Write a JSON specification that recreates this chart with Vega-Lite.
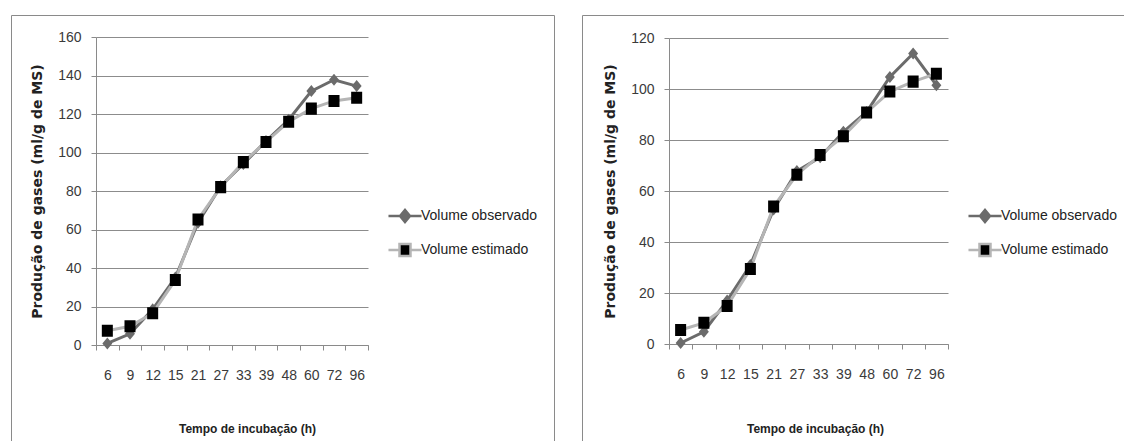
{
  "$schema": "https://vega.github.io/schema/vega-lite/v6.json",
  "padding": {"left": 10, "top": 14, "right": 0, "bottom": 0},
  "background": "white",
  "spacing": 26,
  "resolve": {
    "scale": {"stroke": "independent", "fill": "independent", "shape": "independent"},
    "legend": {"stroke": "independent", "fill": "independent", "shape": "independent"}
  },
  "datasets": {
    "a": [
      {"t": 6, "s": "Volume observado", "v": 0.8}, {"t": 6, "s": "Volume estimado", "v": 7.4},
      {"t": 9, "s": "Volume observado", "v": 5.8}, {"t": 9, "s": "Volume estimado", "v": 9.7},
      {"t": 12, "s": "Volume observado", "v": 18.5}, {"t": 12, "s": "Volume estimado", "v": 16.5},
      {"t": 15, "s": "Volume observado", "v": 35}, {"t": 15, "s": "Volume estimado", "v": 33.8},
      {"t": 21, "s": "Volume observado", "v": 63.5}, {"t": 21, "s": "Volume estimado", "v": 65.2},
      {"t": 27, "s": "Volume observado", "v": 82.5}, {"t": 27, "s": "Volume estimado", "v": 82},
      {"t": 33, "s": "Volume observado", "v": 94}, {"t": 33, "s": "Volume estimado", "v": 95},
      {"t": 39, "s": "Volume observado", "v": 106}, {"t": 39, "s": "Volume estimado", "v": 105.5},
      {"t": 48, "s": "Volume observado", "v": 117}, {"t": 48, "s": "Volume estimado", "v": 116},
      {"t": 60, "s": "Volume observado", "v": 131.9}, {"t": 60, "s": "Volume estimado", "v": 122.8},
      {"t": 72, "s": "Volume observado", "v": 137.8}, {"t": 72, "s": "Volume estimado", "v": 126.8},
      {"t": 96, "s": "Volume observado", "v": 134.5}, {"t": 96, "s": "Volume estimado", "v": 128.4}
    ],
    "b": [
      {"t": 6, "s": "Volume observado", "v": 0.4}, {"t": 6, "s": "Volume estimado", "v": 5.5},
      {"t": 9, "s": "Volume observado", "v": 4.8}, {"t": 9, "s": "Volume estimado", "v": 8.3},
      {"t": 12, "s": "Volume observado", "v": 17}, {"t": 12, "s": "Volume estimado", "v": 14.9},
      {"t": 15, "s": "Volume observado", "v": 31}, {"t": 15, "s": "Volume estimado", "v": 29.4},
      {"t": 21, "s": "Volume observado", "v": 52.8}, {"t": 21, "s": "Volume estimado", "v": 53.9},
      {"t": 27, "s": "Volume observado", "v": 67.8}, {"t": 27, "s": "Volume estimado", "v": 66.4},
      {"t": 33, "s": "Volume observado", "v": 73.2}, {"t": 33, "s": "Volume estimado", "v": 74.1},
      {"t": 39, "s": "Volume observado", "v": 83.2}, {"t": 39, "s": "Volume estimado", "v": 81.5},
      {"t": 48, "s": "Volume observado", "v": 91}, {"t": 48, "s": "Volume estimado", "v": 90.8},
      {"t": 60, "s": "Volume observado", "v": 104.7}, {"t": 60, "s": "Volume estimado", "v": 99},
      {"t": 72, "s": "Volume observado", "v": 113.9}, {"t": 72, "s": "Volume estimado", "v": 102.9},
      {"t": 96, "s": "Volume observado", "v": 101.5}, {"t": 96, "s": "Volume estimado", "v": 106}
    ]
  },
  "hconcat": [
    {
      "width": 543,
      "height": 440,
      "data": {"name": "a"},
      "layer": [
        {
          "mark": {"type": "line", "strokeWidth": 3},
          "encoding": {
            "x": {
              "field": "t", "type": "ordinal",
              "scale": {"type": "band", "range": [85, 357], "paddingInner": 0, "paddingOuter": 0},
              "axis": {"offset": -110, "title": "Tempo de incubação (h)", "titleX": 236, "titleY": 83}
            },
            "y": {
              "field": "v", "type": "quantitative",
              "scale": {"domain": [0, 160], "range": [330, 22], "nice": false},
              "axis": {"offset": -85, "values": [0, 20, 40, 60, 80, 100, 120, 140, 160], "title": "Produção de gases (ml/g de MS)"}
            },
            "stroke": {
              "field": "s", "type": "nominal",
              "scale": {"domain": ["Volume observado", "Volume estimado"], "range": ["#6b6b6b", "#b5b5b5"]},
              "legend": {"orient": "none", "legendX": 387, "legendY": 194}
            }
          }
        },
        {
          "mark": {"type": "point", "filled": true, "opacity": 1, "size": 110},
          "encoding": {
            "x": {"field": "t", "type": "ordinal"},
            "y": {"field": "v", "type": "quantitative"},
            "shape": {"field": "s", "type": "nominal", "scale": {"domain": ["Volume observado", "Volume estimado"], "range": ["M-3.15,0H-0.95M0.95,0H3.15M-0.95,0L0,-1.15L0.95,0L0,1.15Z", "M-3.15,0H-1.05M1.05,0H3.15M-1.05,-1.15H1.05V1.15H-1.05Z"]}, "legend": {"orient": "none", "legendX": 387, "legendY": 194}},
            "fill": {"field": "s", "type": "nominal", "scale": {"domain": ["Volume observado", "Volume estimado"], "range": ["#6b6b6b", "#000000"]}, "legend": {"orient": "none", "legendX": 387, "legendY": 194}}
          }
        }
      ]
    },
    {
      "width": 560,
      "height": 440,
      "data": {"name": "b"},
      "layer": [
        {
          "mark": {"type": "line", "strokeWidth": 3},
          "encoding": {
            "x": {
              "field": "t", "type": "ordinal",
              "scale": {"type": "band", "range": [87, 366], "paddingInner": 0, "paddingOuter": 0},
              "axis": {"offset": -111, "title": "Tempo de incubação (h)", "titleX": 233, "titleY": 84}
            },
            "y": {
              "field": "v", "type": "quantitative",
              "scale": {"domain": [0, 120], "range": [329, 23], "nice": false},
              "axis": {"offset": -87, "values": [0, 20, 40, 60, 80, 100, 120], "title": "Produção de gases (ml/g de MS)"}
            },
            "stroke": {
              "field": "s", "type": "nominal",
              "scale": {"domain": ["Volume observado", "Volume estimado"], "range": ["#6b6b6b", "#b5b5b5"]},
              "legend": {"orient": "none", "legendX": 396, "legendY": 194}
            }
          }
        },
        {
          "mark": {"type": "point", "filled": true, "opacity": 1, "size": 110},
          "encoding": {
            "x": {"field": "t", "type": "ordinal"},
            "y": {"field": "v", "type": "quantitative"},
            "shape": {"field": "s", "type": "nominal", "scale": {"domain": ["Volume observado", "Volume estimado"], "range": ["M-3.15,0H-0.95M0.95,0H3.15M-0.95,0L0,-1.15L0.95,0L0,1.15Z", "M-3.15,0H-1.05M1.05,0H3.15M-1.05,-1.15H1.05V1.15H-1.05Z"]}, "legend": {"orient": "none", "legendX": 396, "legendY": 194}},
            "fill": {"field": "s", "type": "nominal", "scale": {"domain": ["Volume observado", "Volume estimado"], "range": ["#6b6b6b", "#000000"]}, "legend": {"orient": "none", "legendX": 396, "legendY": 194}}
          }
        }
      ]
    }
  ],
  "config": {
    "view": {"stroke": "#8a8a8a", "strokeWidth": 1},
    "axis": {
      "labelFont": "Liberation Sans, Arial, sans-serif",
      "labelFontSize": 14,
      "labelColor": "#3a3a3a",
      "domainColor": "#8a8a8a",
      "tickColor": "#8a8a8a",
      "tickSize": 5,
      "gridColor": "#8c8c8c",
      "gridOpacity": 1,
      "titleColor": "#222222",
      "titleFontWeight": "bold"
    },
    "axisX": {
      "grid": false,
      "tickBand": "extent",
      "labelAngle": 0,
      "labelPadding": 18,
      "titleFont": "Liberation Sans, Arial, sans-serif",
      "titleFontSize": 12,
      "titleBaseline": "middle"
    },
    "axisY": {
      "grid": true,
      "labelPadding": 10,
      "titleFont": "DejaVu Sans, sans-serif",
      "titleFontSize": 14,
      "titlePadding": 13
    },
    "legend": {
      "title": null,
      "padding": 0,
      "offset": 0,
      "symbolSize": 110,
      "symbolStrokeWidth": 2.5,
      "labelOffset": 9,
      "rowPadding": 10,
      "labelFont": "Liberation Sans, Arial, sans-serif",
      "labelFontSize": 14,
      "labelColor": "#222222"
    }
  }
}
